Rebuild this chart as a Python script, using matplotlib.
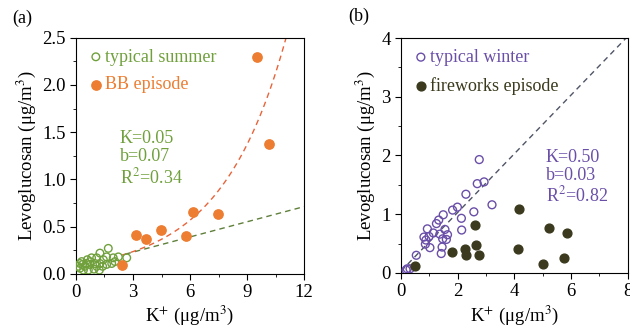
#!/usr/bin/env python3
"""
Levoglucosan vs K+ : (a) summer / BB episode, (b) winter / fireworks episode
"""
import numpy as np
import matplotlib
matplotlib.use('Agg')
import matplotlib.pyplot as plt
from matplotlib.ticker import MultipleLocator

# data, panel (a)
summer_k = [1.70, 1.26, 1.09, 0.82, 0.60, 0.30, 1.44, 1.61, 1.96, 2.23,
            2.67, 2.05, 1.88, 1.40, 1.09, 0.74, 0.47, 0.21, 0.12, 0.39,
            0.65, 0.95, 1.26, 1.00, 0.74, 0.35, 0.56, 1.61, 1.23, 0.21]
summer_lev = [0.27, 0.22, 0.17, 0.17, 0.15, 0.13, 0.15, 0.10, 0.17, 0.18,
              0.17, 0.13, 0.11, 0.08, 0.08, 0.10, 0.08, 0.06, 0.08, 0.04,
              0.04, 0.05, 0.11, 0.11, 0.13, 0.10, 0.11, 0.18, 0.04, 0.11]
bb_k = [2.40, 3.16, 3.68, 4.49, 5.77, 6.18, 7.47, 9.51, 10.14]
bb_lev = [0.095, 0.41, 0.37, 0.46, 0.40, 0.65, 0.63, 2.30, 1.38]
fit_a = dict(K=0.05, b=0.07, R2=0.34)
fit_a_line = (0.0535, 0.07)     # slope, intercept of drawn green line
fit_bb = (0.098, 0.293)         # a, c of drawn exponential curve a*exp(c*x)

# data, panel (b)
winter_k = [2.76, 2.69, 2.93, 2.29, 1.82, 1.99, 2.13, 2.14, 2.57, 3.21,
            1.49, 1.33, 1.25, 1.55, 1.64, 1.60, 1.45, 1.42, 0.93, 0.99,
            0.81, 0.86, 1.02, 1.14, 1.37, 0.54, 0.18, 0.32, 0.22, 0.88, 1.47]
winter_lev = [1.93, 1.52, 1.55, 1.34, 1.07, 1.12, 0.93, 0.73, 1.04, 1.16,
              0.99, 0.90, 0.84, 0.74, 0.65, 0.57, 0.44, 0.33, 0.75, 0.62,
              0.61, 0.49, 0.43, 0.68, 0.66, 0.30, 0.05, 0.07, 0.07, 0.56, 0.58]
fw_k = [0.48, 1.80, 2.27, 2.28, 2.60, 2.65, 2.76, 4.17, 4.12, 5.21, 5.84, 5.02, 5.76]
fw_lev = [0.11, 0.36, 0.41, 0.31, 0.81, 0.47, 0.31, 1.08, 0.40, 0.77, 0.68, 0.16, 0.26]
fit_b = dict(K=0.50, b=0.03, R2=0.82)

# colours
green = '#70a03c'
orange = '#ed7d31'
purple = '#6a4fa8'
dark = '#3b3a1e'

# setup figure
fs = 13
plt.rcParams['font.family'] = ['Liberation Serif', 'DejaVu Serif']
plt.rcParams['font.size'] = fs
plt.rc('mathtext', fontset='stix')
plt.rc('xtick.major', size=4)
plt.rc('ytick.major', size=4)
plt.rc('xtick.minor', size=2.5)
plt.rc('ytick.minor', size=2.5)
plt.rc('xtick', labelsize=13.5)
plt.rc('ytick', labelsize=13.5)
fig = plt.figure(figsize=(6.3, 3.28), dpi=100)
ax = [fig.add_axes([0.1206, 0.165, 0.362, 0.72]),
      fig.add_axes([0.6365, 0.168, 0.360, 0.716])]
xlab = 'K$^{+}$ (μg/m$^{3}$)'
ylab = 'Levoglucosan (μg/m$^{3}$)'

# panel (a)
a = ax[0]
a.scatter(summer_k, summer_lev, s=30, facecolors='none', edgecolors=green,
          linewidths=1.0, label='typical summer', zorder=3)
a.scatter(bb_k, bb_lev, s=45, color=orange, label='BB episode', zorder=3)
x = np.linspace(2.6, 12, 50)
a.plot(x, fit_a_line[0] * x + fit_a_line[1], '--', color='#5f7f3a',
       lw=1.0, dashes=(4, 3))
x = np.linspace(2.4, 11.2, 80)
a.plot(x, fit_bb[0] * np.exp(fit_bb[1] * x), '--', color='#e8643a',
       lw=1.0, dashes=(4, 3))
a.text(2.3, 1.22, 'K=%.2f\nb=%.2f\nR$^{2}$=%.2f' % (fit_a['K'], fit_a['b'], fit_a['R2']),
       color=green, ha='left', va='center', linespacing=1.1, fontsize=fs)
a.axis([0, 12, 0, 2.5])
a.xaxis.set_major_locator(MultipleLocator(3))
a.xaxis.set_minor_locator(MultipleLocator(1.5))
a.yaxis.set_major_locator(MultipleLocator(0.5))
a.yaxis.set_minor_locator(MultipleLocator(0.25))
a.yaxis.set_major_formatter('{x:.1f}')
a.set_xlabel(xlab, fontsize=13.5, labelpad=2)
a.set_ylabel(ylab, fontsize=13.5, labelpad=3)
leg = a.legend(loc='upper left', frameon=False, handletextpad=0.0,
               handlelength=1.0, borderaxespad=0.2, labelspacing=0.6,
               fontsize=fs)
for t, c in zip(leg.get_texts(), (green, orange)):
    t.set_color(c)
fig.text(0.02, 0.93, '(a)', fontsize=fs)

# panel (b)
b = ax[1]
b.scatter(winter_k, winter_lev, s=32, facecolors='none', edgecolors=purple,
          linewidths=1.0, label='typical winter', zorder=3)
b.scatter(fw_k, fw_lev, s=40, color=dark, label='fireworks episode', zorder=3)
x = np.linspace(0, 8, 50)
b.plot(x, fit_b['K'] * x + fit_b['b'], '--', color='#4f5566',
       lw=1.0, dashes=(4, 3))
b.text(5.1, 1.63, 'K=%.2f\nb=%.2f\nR$^{2}$=%.2f' % (fit_b['K'], fit_b['b'], fit_b['R2']),
       color=purple, ha='left', va='center', linespacing=1.1, fontsize=fs)
b.axis([0, 8, 0, 4])
b.xaxis.set_major_locator(MultipleLocator(2))
b.xaxis.set_minor_locator(MultipleLocator(1))
b.yaxis.set_major_locator(MultipleLocator(1))
b.yaxis.set_minor_locator(MultipleLocator(0.5))
b.set_xlabel(xlab, fontsize=13.5, labelpad=2)
b.set_ylabel(ylab, fontsize=13.5, labelpad=3)
leg = b.legend(loc='upper left', frameon=False, handletextpad=0.0,
               handlelength=1.0, borderaxespad=0.2, labelspacing=0.6,
               fontsize=fs)
for t, c in zip(leg.get_texts(), (purple, dark)):
    t.set_color(c)
fig.text(0.552, 0.935, '(b)', fontsize=fs)

# finish up
fig.savefig('out.png', dpi=100)
